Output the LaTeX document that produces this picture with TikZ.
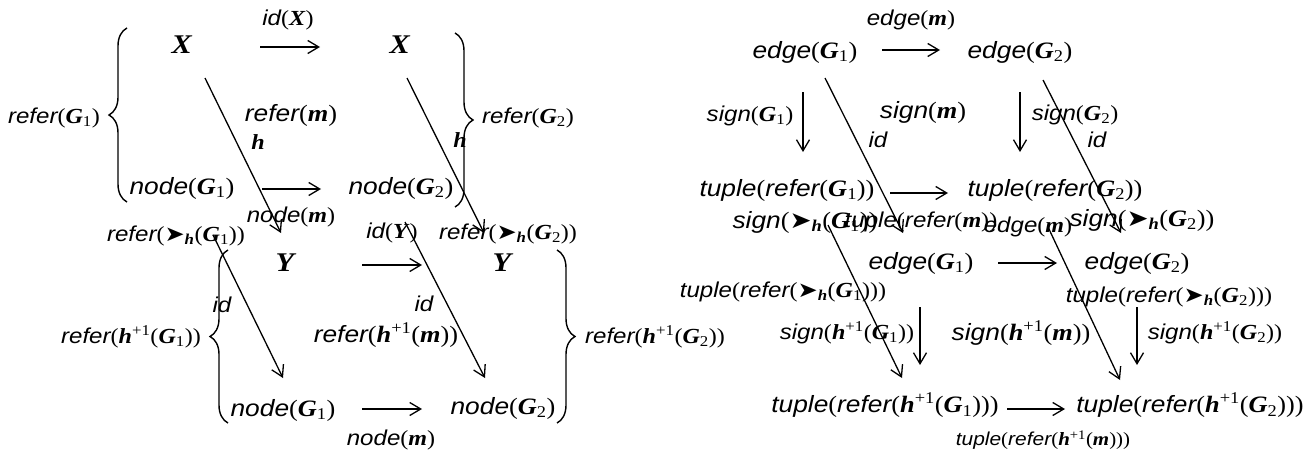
\documentclass[tikz,border=0pt]{standalone}
\usepackage{fontspec}
\setmainfont{Liberation Serif}[FakeStretch=1.12]
\setsansfont{Liberation Sans}[FakeStretch=1.12]
\newfontfamily\dejavu{DejaVu Sans}[FakeStretch=1.12]
\usetikzlibrary{arrows.meta,decorations.pathreplacing}
\newcommand\wrd[1]{{\sffamily\itshape #1}}
\newcommand\bi[1]{\textbf{\textit{#1}}}
\newcommand\Ga{\bi{G}\textsubscript{1}}
\newcommand\Gb{\bi{G}\textsubscript{2}}
\newcommand\hp{\bi{h}\textsuperscript{+1}}
\newcommand\arh{{\dejavu ➤}\textsubscript{\bi{h}}}
\tikzset{
  lab/.style={inner sep=0pt,font=\fontsize{21.5}{24}\selectfont},
  big/.style={inner sep=0pt,font=\fontsize{23.5}{27}\selectfont},
  var/.style={inner sep=0pt,font=\fontsize{27}{30}\selectfont},
  sml/.style={inner sep=0pt,font=\fontsize{18.7}{21}\selectfont},
  conn/.style={line width=1.3pt,-{Straight Barb[length=11pt,width=13pt,line width=1.3pt]}},
  brc/.style={line width=1.4pt,decorate,decoration={brace,amplitude=18pt}}
}
\begin{document}
\begin{tikzpicture}[x=1pt,y=-1pt]
\useasboundingbox (0,0) rectangle (1316,452);
% ---------- left diagram, upper block
\node[var] (X1) at (182,45) {\bi{X}};
\node[var] (X2) at (400,45) {\bi{X}};
\node[lab] (lidX) at (288,20) {\wrd{id}(\bi{X})};
\node[big] (N1) at (182,188) {\wrd{node}(\Ga)};
\node[big] (N2) at (401,188) {\wrd{node}(\Gb)};
\node[lab] (lnodem) at (291,217) {\wrd{node}(\bi{m})};
\node[big] (lreferm) at (291,115) {\wrd{refer}(\bi{m})};
\node[lab] (lh1) at (258,142) {\bi{h}};
\node[lab] (lh2) at (460,140) {\bi{h}};
\node[lab] (labL1) at (54,118) {\wrd{refer}(\Ga)};
\node[lab] (labR1) at (528,118) {\wrd{refer}(\Gb)};
\coordinate (a1s) at (260,47); \coordinate (a1e) at (320,47);
\coordinate (a2s) at (262,189); \coordinate (a2e) at (321,189);
\coordinate (d1s) at (205,78); \coordinate (d1e) at (281,233);
\coordinate (d2s) at (407,78); \coordinate (d2e) at (484,233);
\draw[conn] (a1s) -- (a1e);
\draw[conn] (a2s) -- (a2e);
\draw[conn] (d1s) -- (d1e);
\draw[conn] (d2s) -- (d2e);
\coordinate (bL1b) at (127,202); \coordinate (bL1t) at (127,28);
\coordinate (bR1t) at (455,33); \coordinate (bR1b) at (455,207);
\draw[brc] (bL1b) -- (bL1t);
\draw[brc] (bR1t) -- (bR1b);
% ---------- left diagram, lower block
\node[lab] (labL2a) at (176,236) {\wrd{refer}(\arh(\Ga))};
\node[lab] (labL2b) at (131,337) {\wrd{refer}(\hp(\Ga))};
\node[var] (Y1) at (286,263) {\bi{Y}};
\node[var] (Y2) at (503,263) {\bi{Y}};
\node[lab] (lidY) at (392,233) {\wrd{id}(\bi{Y})};
\node[lab] (labR2a) at (508,234) {\wrd{refer}(\arh(\Gb))};
\node[lab] (lid1) at (222,305) {\wrd{id}};
\node[lab] (lid2) at (424,304) {\wrd{id}};
\node[big] (lreferhm) at (386,335) {\wrd{refer}(\hp(\bi{m}))};
\node[big] (N3) at (283,410) {\wrd{node}(\Ga)};
\node[big] (N4) at (503,408) {\wrd{node}(\Gb)};
\node[lab] (lnodem2) at (391,440) {\wrd{node}(\bi{m})};
\node[lab] (labR2b) at (655,337) {\wrd{refer}(\hp(\Gb))};
\coordinate (a3s) at (362,265); \coordinate (a3e) at (422,265);
\coordinate (a4s) at (362,409); \coordinate (a4e) at (422,409);
\coordinate (d3s) at (213,235); \coordinate (d3e) at (283,378);
\coordinate (d4s) at (405,222); \coordinate (d4e) at (485,378);
\draw[conn] (a3s) -- (a3e);
\draw[conn] (a4s) -- (a4e);
\draw[conn] (d3s) -- (d3e);
\draw[conn] (d4s) -- (d4e);
\coordinate (bL2b) at (228,423); \coordinate (bL2t) at (228,250);
\coordinate (bR2t) at (557,250); \coordinate (bR2b) at (557,423);
\draw[brc] (bL2b) -- (bL2t);
\draw[brc] (bR2t) -- (bR2b);
% ---------- right diagram, upper block
\node[lab] (redgem) at (911,20) {\wrd{edge}(\bi{m})};
\node[big] (E1) at (805,52) {\wrd{edge}(\Ga)};
\node[big] (E2) at (1020,52) {\wrd{edge}(\Gb)};
\node[lab] (rsignG1) at (750,116) {\wrd{sign}(\Ga)};
\node[big] (rsignm) at (923,112) {\wrd{sign}(\bi{m})};
\node[lab] (rid1) at (878,140) {\wrd{id}};
\node[big] (T1) at (787,190) {\wrd{tuple}(\wrd{refer}(\Ga))};
\node[big] (T2) at (1055,190) {\wrd{tuple}(\wrd{refer}(\Gb))};
\node[lab] (rsignG2) at (1075,115) {\wrd{sign}(\Gb)};
\node[lab] (rid2) at (1097,140) {\wrd{id}};
\coordinate (a5s) at (882,50); \coordinate (a5e) at (940,50);
\coordinate (a6s) at (890,193); \coordinate (a6e) at (948,193);
\coordinate (v1s) at (803,92); \coordinate (v1e) at (803,152);
\coordinate (v2s) at (1020,92); \coordinate (v2e) at (1020,152);
\coordinate (d5s) at (825,78); \coordinate (d5e) at (903,233);
\coordinate (d6s) at (1043,80); \coordinate (d6e) at (1121,233);
\draw[conn] (a5s) -- (a5e);
\draw[conn] (a6s) -- (a6e);
\draw[conn] (v1s) -- (v1e);
\draw[conn] (v2s) -- (v2e);
\draw[conn] (d5s) -- (d5e);
\draw[conn] (d6s) -- (d6e);
% ---------- right diagram, lower block
\node[big] (rsignhG1) at (805,222) {\wrd{sign}(\arh(\Ga))};
\node[lab] (rtuplem) at (921,222) {\wrd{tuple}(\wrd{refer}(\bi{m}))};
\node[lab] (redgem2) at (1028,227) {\wrd{edge}(\bi{m})};
\node[big] (rsignhG2) at (1142,220) {\wrd{sign}(\arh(\Gb))};
\node[big] (E3) at (921,263) {\wrd{edge}(\Ga)};
\node[big] (E4) at (1137,263) {\wrd{edge}(\Gb)};
\node[lab] (rtupleh1) at (783,292) {\wrd{tuple}(\wrd{refer}(\arh(\Ga)))};
\node[lab] (rtupleh2) at (1169,297) {\wrd{tuple}(\wrd{refer}(\arh(\Gb)))};
\node[lab] (rsignp1) at (847,333) {\wrd{sign}(\hp(\Ga))};
\node[big] (rsignpm) at (1021,333) {\wrd{sign}(\hp(\bi{m}))};
\node[lab] (rsignp2) at (1215,333) {\wrd{sign}(\hp(\Gb))};
\node[big] (T3) at (885,405) {\wrd{tuple}(\wrd{refer}(\hp(\Ga)))};
\node[big] (T4) at (1190,405) {\wrd{tuple}(\wrd{refer}(\hp(\Gb)))};
\node[sml] (rtuplepm) at (1043,440) {\wrd{tuple}(\wrd{refer}(\hp(\bi{m})))};
\coordinate (a7s) at (998,263); \coordinate (a7e) at (1057,263);
\coordinate (a8s) at (1007,409); \coordinate (a8e) at (1065,409);
\coordinate (v3s) at (920,307); \coordinate (v3e) at (920,365);
\coordinate (v4s) at (1137,307); \coordinate (v4e) at (1137,365);
\coordinate (d7s) at (828,225); \coordinate (d7e) at (902,378);
\coordinate (d8s) at (1048,227); \coordinate (d8e) at (1120,380);
\draw[conn] (a7s) -- (a7e);
\draw[conn] (a8s) -- (a8e);
\draw[conn] (v3s) -- (v3e);
\draw[conn] (v4s) -- (v4e);
\draw[conn] (d7s) -- (d7e);
\draw[conn] (d8s) -- (d8e);
\end{tikzpicture}
\end{document}
